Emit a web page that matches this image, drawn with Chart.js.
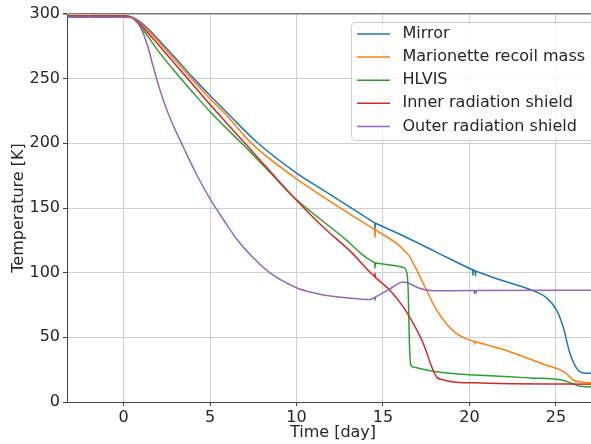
<!DOCTYPE html>
<html>
<head>
<meta charset="utf-8">
<title>Cooldown temperatures</title>
<script src="https://cdn.jsdelivr.net/npm/chart.js@4.4.1/dist/chart.umd.min.js"></script>
<style>
    html, body { margin: 0; padding: 0; background: #ffffff; overflow: hidden; }
    /* the axes run a little past the right edge of the frame */
    #wrap { width: 591px; height: 444px; overflow: hidden; }
</style>
</head>
<body>
<div id="wrap"><canvas id="myChart" width="599" height="444"></canvas></div>
<script>
// cooldown data: time in days, temperature in K
// the short dips near day 14.5 and day 20.3 are glitches in the logged data
const seriesNames = ["Mirror", "Marionette recoil mass", "HLVIS", "Inner radiation shield", "Outer radiation shield"];
const seriesColors = ["#1f77b4", "#ff7f0e", "#2ca02c", "#d62728", "#9467bd"];

const mirrorDays = [-3.27, 0, 0.3, 0.6, 1, 1.5, 2, 3, 4, 5, 6, 7.7, 10, 11.57, 13,
    14.42, 14.48, 14.52, 14.54, 14.56, 14.6, 14.66, 16, 18,
    20.05, 20.12, 20.18, 20.2, 20.22, 20.28, 20.33, 20.35, 20.37, 20.42, 20.5,
    21.76, 23.5, 24.46, 25.04, 25.42, 25.8, 26.2, 26.58, 27.5];
const mirrorTemps = [298.5, 298.5, 298.2, 297, 293.5, 287.5, 280.5, 266, 251, 237, 223.5, 201, 177, 163.7, 151.5,
    139.3, 138.8, 138.5, 134, 138.3, 138, 137.6, 129.5, 116.5,
    103, 102.6, 102.3, 98, 102.1, 101.8, 101.5, 97.5, 101.3, 101, 100.6,
    94.5, 87, 80.5, 71, 58, 38, 26, 22.5, 22.2];

const marionetteDays = [-3.27, 0, 0.3, 0.6, 1, 1.5, 2, 3, 4, 5, 6, 7.4, 10, 10.97, 13,
    14.42, 14.48, 14.52, 14.54, 14.56, 14.6, 14.66, 15.98, 16.3, 16.52, 16.8,
    17.5, 18.1, 18.7, 19.2, 19.64, 20.15, 20.22, 20.28, 20.3, 20.32, 20.38, 20.45,
    21.76, 22.9, 24.46, 25.2, 25.6, 26.0, 26.4, 27.5];
const marionetteTemps = [298.5, 298.5, 298.2, 296.8, 292.5, 286, 279, 264, 249, 234.5, 221, 200, 172.5, 163.7, 146,
    134.2, 133.7, 133.4, 127, 133.2, 132.9, 132.4, 120.5, 116, 113, 106,
    87, 71, 60, 53.5, 50, 47.3, 47, 46.8, 44.8, 46.7, 46.5, 46.2,
    41.3, 36.2, 28.4, 25, 22, 17, 15.5, 14.7];

const hlvisDays = [-3.27, 0, 0.3, 0.6, 1, 1.5, 2, 3, 4, 5, 6.83, 8.5, 9.75, 12.9, 13.86,
    14.42, 14.48, 14.52, 14.54, 14.56, 14.6, 14.66, 15.4, 16.17, 16.38, 16.46,
    16.53, 16.6, 16.75, 18.1, 20.4, 21.76, 23.5, 25.4, 25.9, 26.4, 27.5];
const hlvisTemps = [298.5, 298.5, 298, 296, 290, 281, 271.5, 255, 239.5, 224.5, 200, 177, 159.5, 125, 113.4,
    108.5, 108.1, 107.8, 103.5, 107.6, 107.4, 107.2, 106, 104, 100, 85,
    45, 29, 27, 23.3, 20.8, 20, 18.6, 16.8, 14.5, 12.2, 11.7];

const innerDays = [-3.27, 0, 0.3, 0.6, 1, 1.5, 2, 3, 4, 5, 7.02, 8.5, 9.75, 11.6, 13.19, 14.25,
    14.42, 14.48, 14.52, 14.54, 14.56, 14.6, 14.66, 15.4, 16.17,
    16.75, 17.33, 17.82, 18.1, 18.5, 19.06, 20.3, 21.76, 27.5];
const innerTemps = [298.5, 298.5, 298, 296.5, 291.5, 284, 276.5, 261, 245.5, 230, 200, 178, 159.5, 134.5, 115.5, 100.3,
    98.2, 97.4, 96.9, 99.5, 96.4, 95.9, 95.2, 86.4, 73.5,
    60.7, 45.2, 27.1, 19.4, 17, 15.5, 14.8, 14.3, 13.8];

const outerDays = [-3.27, -2.02, -2, -1.98, 0, 0.3, 0.57, 0.85, 1.14, 1.43, 1.72, 2.1, 2.5, 3, 3.46, 4.2, 5, 5.8, 6.54, 7.5, 8.47,
    10, 10.78, 11.55, 13, 14.25, 14.42, 14.48, 14.52, 14.54, 14.56, 14.6, 14.66, 15.4, 16.17, 16.45, 17.14, 17.9,
    20.1, 20.26, 20.28, 20.3, 20.36, 20.38, 20.4, 20.6, 27.5];
const outerTemps = [297.5, 297.5, 298.6, 297.5, 297.5, 297.3, 296.5, 292.5, 285, 273.5, 259, 241.5, 226, 210, 197, 176.5, 157, 140.5, 126, 111.5, 99.8,
    88.3, 85, 82.8, 80.4, 79.2, 80.2, 80.6, 80.9, 78.5, 81.2, 81.5, 81.9, 87.5, 92.8, 92, 87.7, 86,
    86.2, 86.2, 83.8, 86.2, 86.2, 83.8, 86.2, 86.3, 86.5];

const xTicks = [0, 5, 10, 15, 20, 25];
const yTicks = [0, 50, 100, 150, 200, 250, 300];

const allDays = [mirrorDays, marionetteDays, hlvisDays, innerDays, outerDays];
const allTemps = [mirrorTemps, marionetteTemps, hlvisTemps, innerTemps, outerTemps];

const fontFamily = "'DejaVu Sans', sans-serif";
const textColor = "#262626";

function toPoints(days, temps) {
    return days.map((d, i) => ({ x: d, y: temps[i] }));
}

// legend box drawn inside the plot, top right, on top of the lines
const boxLegend = {
    id: "boxLegend",
    afterDatasetsDraw(chart) {
        const ctx = chart.ctx;
        ctx.save();
        ctx.beginPath();
        ctx.roundRect(351.5, 22.5, 242, 118, 4);
        ctx.fillStyle = "rgba(255,255,255,0.8)";
        ctx.fill();
        ctx.strokeStyle = "#cccccc";
        ctx.lineWidth = 1;
        ctx.stroke();

        ctx.font = "16px " + fontFamily;
        ctx.textBaseline = "middle";
        ctx.textAlign = "left";
        seriesNames.forEach((name, i) => {
            const y = 34 + i * 23.1;
            ctx.strokeStyle = seriesColors[i];
            ctx.lineWidth = 1.5;
            ctx.beginPath();
            ctx.moveTo(357, y);
            ctx.lineTo(390, y);
            ctx.stroke();
            ctx.fillStyle = textColor;
            ctx.fillText(name, 402.5, y);
        });
        ctx.restore();
    }
};

const datasets = seriesNames.map((name, i) => ({
    label: name,
    data: toPoints(allDays[i], allTemps[i]),
    borderColor: seriesColors[i],
    backgroundColor: seriesColors[i],
    borderWidth: 1.5,
    pointRadius: 0,
    cubicInterpolationMode: "monotone",
    order: seriesNames.length - i
}));

const canvas = document.getElementById("myChart");

new Chart(canvas, {
    type: "line",
    data: { datasets: datasets },
    options: {
        responsive: false,
        animation: false,
        events: [],
        layout: { padding: { top: 14, right: 0, left: 0, bottom: 0 } },
        plugins: {
            legend: { display: false },
            tooltip: { enabled: false }
        },
        scales: {
            x: {
                type: "linear",
                min: -3.27,
                max: 27.49,
                afterBuildTicks: scale => { scale.ticks = xTicks.map(v => ({ value: v })); },
                afterFit: scale => { scale.height = 42; },
                grid: { color: "#cfcfcf", lineWidth: 1, tickLength: 4, tickColor: "#444444" },
                border: { color: "#444444", width: 1 },
                ticks: { color: textColor, font: { family: fontFamily, size: 16 }, padding: 2, maxRotation: 0 },
                title: {
                    display: true,
                    text: "Time [day]",
                    color: textColor,
                    font: { family: fontFamily, size: 16 },
                    padding: { top: 0, bottom: 2 }
                }
            },
            y: {
                min: 0,
                max: 300,
                afterBuildTicks: scale => { scale.ticks = yTicks.map(v => ({ value: v })); },
                afterFit: scale => { scale.width = 67; },
                grid: {
                    color: c => (c.tick && c.tick.value === 300 ? "#7a7a7a" : "#cfcfcf"),
                    lineWidth: c => (c.tick && c.tick.value === 300 ? 1.5 : 1),
                    tickLength: 4,
                    tickColor: "#444444"
                },
                border: { color: "#444444", width: 1 },
                ticks: { color: textColor, font: { family: fontFamily, size: 16 }, padding: 3 },
                title: {
                    display: true,
                    text: "Temperature [K]",
                    color: textColor,
                    font: { family: fontFamily, size: 16 },
                    padding: { top: 9, bottom: 0 }
                }
            }
        }
    },
    plugins: [boxLegend]
});
</script>
</body>
</html>
